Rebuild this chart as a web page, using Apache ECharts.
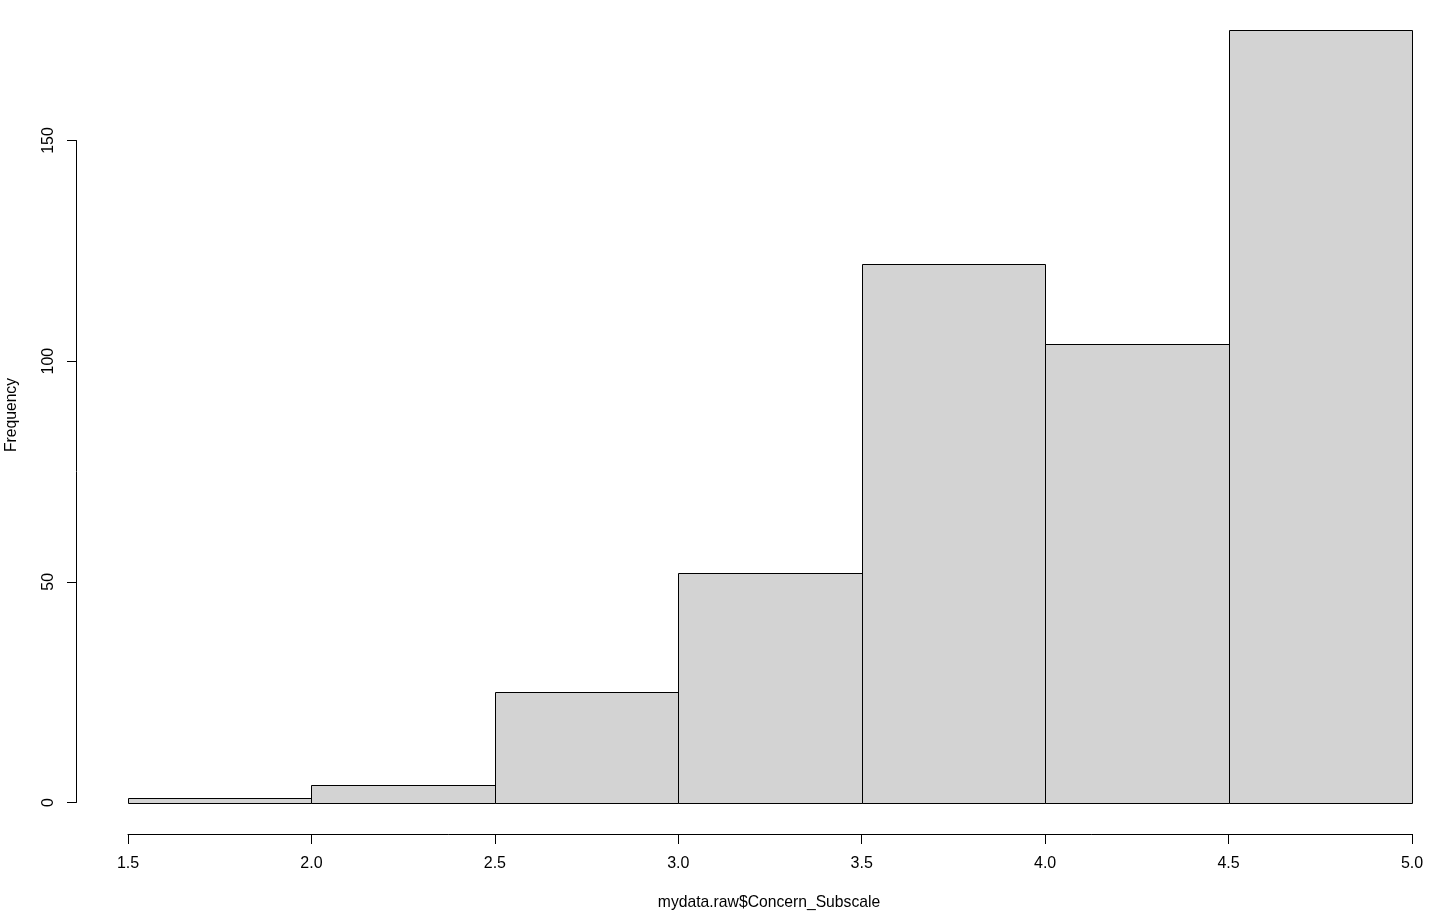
<!DOCTYPE html>
<html>
<head>
<meta charset="utf-8">
<script src="https://cdn.jsdelivr.net/npm/echarts@6/dist/echarts.min.js"></script>
<style>
html,body{margin:0;padding:0;background:#fff;}
#chart{width:1434px;height:917px;}
</style>
</head>
<body>
<div id="chart"></div>
<script>
const binStarts = [1.5, 2.0, 2.5, 3.0, 3.5, 4.0, 4.5];
const binEnds   = [2.0, 2.5, 3.0, 3.5, 4.0, 4.5, 5.0];
const counts    = [1, 4, 25, 52, 122, 104, 175];
const xTitle = 'mydata.raw$Concern_Subscale';
const yTitle = 'Frequency';

const data = binStarts.map((s, i) => [s, binEnds[i], counts[i]]);
const FONT = '"Liberation Sans", Arial, sans-serif';

const chart = echarts.init(document.getElementById('chart'));
chart.setOption({
  backgroundColor: '#fff',
  animation: false,
  grid: [
    {left: 128, right: 22, top: 30.2, bottom: 114.5},
    {left: 76, width: 1, top: 140.5, bottom: 114.5}
  ],
  xAxis: [
    {
      gridIndex: 0, type: 'value', min: 1.5, max: 5, interval: 0.5,
      position: 'bottom', offset: 31.5,
      axisLine: {show: true, onZero: false, lineStyle: {color: '#000', width: 1}},
      axisTick: {show: true, inside: false, length: 10, lineStyle: {color: '#000'}},
      axisLabel: {color: '#000', fontSize: 16, fontFamily: FONT, margin: 22,
        formatter: v => v.toFixed(1)},
      splitLine: {show: false}
    },
    {gridIndex: 1, type: 'value', show: false, min: 0, max: 1}
  ],
  yAxis: [
    {gridIndex: 0, type: 'value', min: 0, max: 175, show: false, splitLine: {show: false}},
    {
      gridIndex: 1, type: 'value', min: 0, max: 150, interval: 50, position: 'left',
      axisLine: {show: true, onZero: false, lineStyle: {color: '#000', width: 1}},
      axisTick: {show: true, inside: false, length: 9, lineStyle: {color: '#000'}},
      axisLabel: {color: '#000', fontSize: 16, fontFamily: FONT, rotate: 90, margin: 19},
      splitLine: {show: false}
    }
  ],
  graphic: [
    {type: 'text', x: 769, y: 902.5,
      style: {text: xTitle, fill: '#000', font: '15.7px ' + FONT, textAlign: 'center', textVerticalAlign: 'middle'}},
    {type: 'text', x: 11.5, y: 415, rotation: Math.PI / 2,
      style: {text: yTitle, fill: '#000', font: '15.7px ' + FONT, textAlign: 'center', textVerticalAlign: 'middle'}}
  ],
  series: [{
    type: 'custom',
    xAxisIndex: 0, yAxisIndex: 0,
    data: data,
    encode: {x: [0, 1], y: 2},
    renderItem: function (params, api) {
      const p0 = api.coord([api.value(0), api.value(2)]);
      const p1 = api.coord([api.value(1), 0]);
      const x0 = Math.round(p0[0]) + 0.5, y0 = Math.round(p0[1]) + 0.5;
      const x1 = Math.round(p1[0]) + 0.5, y1 = Math.round(p1[1]) + 0.5;
      return {
        type: 'rect',
        shape: {x: x0, y: y0, width: x1 - x0, height: y1 - y0},
        style: {fill: '#d3d3d3', stroke: '#000', lineWidth: 1}
      };
    }
  }]
});
</script>
</body>
</html>
